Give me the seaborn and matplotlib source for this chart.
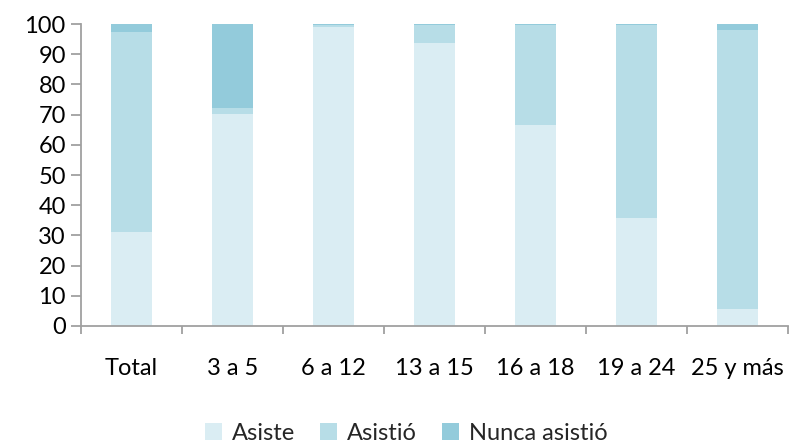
import matplotlib
matplotlib.use("Agg")
import matplotlib.pyplot as plt
import seaborn as sns
import pandas as pd
import numpy as np
from matplotlib.patches import Patch

categories = ["Total", "3 a 5", "6 a 12", "13 a 15", "16 a 18", "19 a 24", "25 y más"]
asiste = [31.1, 70.2, 99.0, 93.7, 66.6, 35.8, 5.7]
asistio = [66.3, 2.0, 0.7, 6.0, 33.1, 63.9, 92.3]
nunca = [2.6, 27.8, 0.3, 0.3, 0.3, 0.3, 2.0]
series_names = ["Asiste", "Asistió", "Nunca asistió"]
colors = ["#daedf3", "#b7dde7", "#93cbdb"]

sns.set_theme(style="white")
plt.rcParams['font.family'] = ['Lato', 'DejaVu Sans']

fig = plt.figure(figsize=(7.89, 4.47), dpi=100)
ax = fig.add_axes([0.1027, 0.271, 0.8963, 0.675])

df = pd.DataFrame({"cat": categories, "Asiste": asiste, "Asistió": asistio, "Nunca asistió": nunca})
bottom = np.zeros(len(categories))
for name, col in zip(series_names, colors):
    sns.barplot(data=df, x="cat", y=name, color=col, width=0.406, bottom=bottom,
                ax=ax, saturation=1, edgecolor="none", linewidth=0)
    bottom = bottom + df[name].values

ax.set_ylim(0, 100)
ax.set_xlim(-0.5, len(categories) - 0.5)
ax.set_yticks(range(0, 101, 10))
ax.set_xlabel("")
ax.set_ylabel("")
gray = "#a0a0a0"
for s in ["top", "right"]:
    ax.spines[s].set_visible(False)
for s in ["left", "bottom"]:
    ax.spines[s].set_color(gray)
    ax.spines[s].set_linewidth(1.3)
fs = 17
ax.tick_params(axis="y", which="major", length=7, width=1.3, color=gray, left=True,
               labelsize=fs, labelcolor="black", pad=4)
ax.set_xticks(range(len(categories)))
ax.set_xticklabels(categories)
ax.tick_params(axis="x", which="major", length=0, labelsize=fs, labelcolor="black", pad=23)
ax.set_xticks(np.arange(-0.5, len(categories), 1.0), minor=True)
ax.tick_params(axis="x", which="minor", length=6, width=1.3, color=gray, bottom=True)

handles = [Patch(facecolor=c, edgecolor="none") for c in colors]
fig.legend(handles, series_names, loc="center", bbox_to_anchor=(0.515, 0.03), ncol=3,
           frameon=False, fontsize=fs, handlelength=0.72, handleheight=0.72,
           columnspacing=1.06, handletextpad=0.42, borderpad=0.1)

fig.savefig("out.png", dpi=100)
